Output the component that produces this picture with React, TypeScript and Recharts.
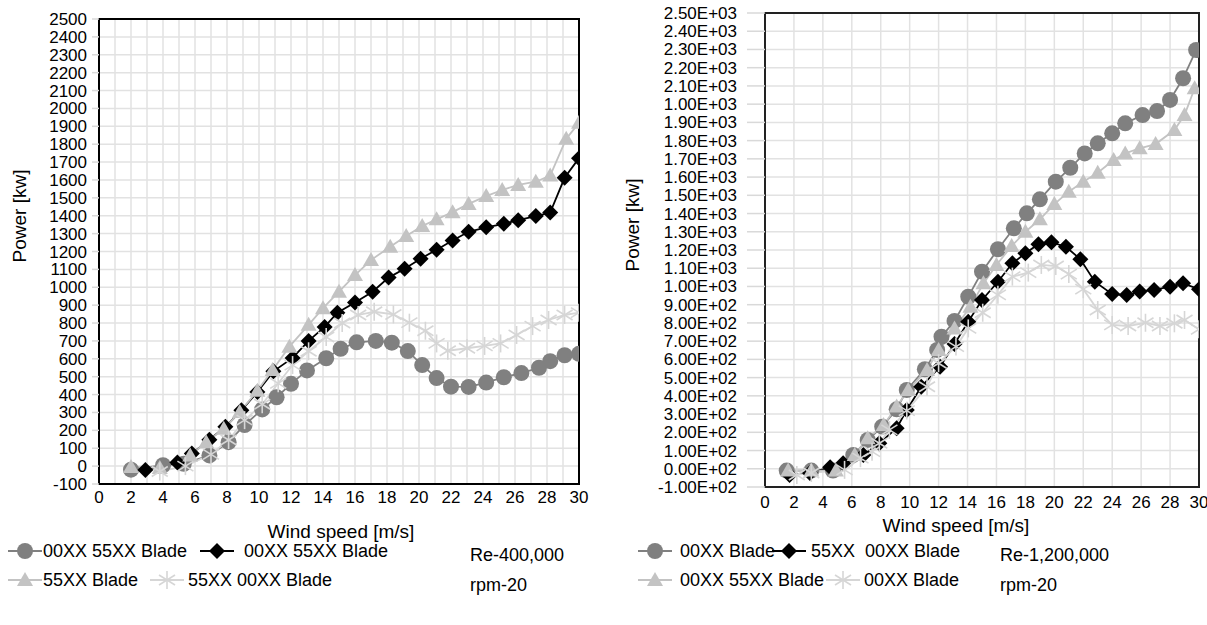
import React from 'react';
import { LineChart, Line, XAxis, YAxis, CartesianGrid, ReferenceArea } from 'recharts';

const FONT = '"Liberation Sans", Arial, Helvetica, sans-serif';

// ---------- Left chart (Re-400,000) ----------
const leftCircleX = [2.0, 4.0, 5.3, 6.9, 8.1, 9.1, 10.2, 11.1, 12.0, 13.0, 14.2, 15.1, 16.1, 17.3, 18.3, 19.3, 20.2, 21.1, 22.0, 23.1, 24.2, 25.3, 26.4, 27.5, 28.2, 29.1, 30.0];
const leftCircleY = [-20, 5, 13, 60, 134, 230, 317, 385, 460, 535, 603, 656, 692, 700, 690, 643, 565, 492, 444, 443, 467, 497, 520, 550, 587, 620, 628];

const leftDiamondX = [2.9, 4.9, 5.8, 6.9, 7.9, 8.9, 9.9, 10.9, 12.1, 13.1, 14.1, 14.9, 16.0, 17.1, 18.1, 19.1, 20.1, 21.1, 22.1, 23.1, 24.2, 25.3, 26.2, 27.3, 28.2, 29.1, 30.0];
const leftDiamondY = [-22, 20, 70, 148, 220, 312, 415, 530, 605, 700, 778, 858, 915, 975, 1054, 1104, 1160, 1210, 1262, 1310, 1335, 1355, 1375, 1398, 1418, 1612, 1722];

const leftTriangleX = [2.0, 3.8, 5.7, 6.7, 7.8, 8.8, 9.9, 10.85, 11.9, 13.1, 14.0, 15.0, 16.0, 17.0, 18.2, 19.2, 20.2, 21.1, 22.1, 23.1, 24.2, 25.2, 26.2, 27.3, 28.2, 29.2, 30.0];
const leftTriangleY = [-5, -10, 60, 134, 209, 302, 422, 537, 668, 790, 883, 975, 1068, 1152, 1227, 1287, 1343, 1380, 1420, 1466, 1510, 1544, 1572, 1590, 1625, 1830, 1920];

const leftStarX = [3.8, 5.4, 7.0, 8.1, 9.1, 10.2, 11.2, 12.1, 13.1, 14.2, 15.2, 16.2, 17.2, 18.4, 19.4, 20.4, 21.1, 21.8, 23.0, 24.1, 25.1, 26.1, 27.1, 28.1, 29.1, 30.0];
const leftStarY = [-30, 0, 66, 146, 257, 346, 463, 565, 642, 722, 800, 845, 863, 848, 802, 757, 686, 645, 659, 672, 686, 733, 783, 817, 845, 858];

const leftXTicks = [0, 1, 2, 3, 4, 5, 6, 7, 8, 9, 10, 11, 12, 13, 14, 15, 16, 17, 18, 19, 20, 21, 22, 23, 24, 25, 26, 27, 28, 29, 30];
const leftXLabelTicks = [0, 2, 4, 6, 8, 10, 12, 14, 16, 18, 20, 22, 24, 26, 28, 30];
const yTicks = [-100, 0, 100, 200, 300, 400, 500, 600, 700, 800, 900, 1000, 1100, 1200, 1300, 1400, 1500, 1600, 1700, 1800, 1900, 2000, 2100, 2200, 2300, 2400, 2500];

const leftLegend = ['00XX 55XX Blade', '00XX 55XX Blade', '55XX Blade', '55XX 00XX Blade'];
const leftNote = ['Re-400,000', 'rpm-20'];

// ---------- Right chart (Re-1,200,000) ----------
const rightCircleX = [1.5, 3.2, 4.7, 6.1, 7.1, 8.1, 9.1, 9.8, 11.05, 11.9, 12.2, 13.1, 14.05, 15.0, 16.1, 17.2, 18.1, 19.0, 20.1, 21.1, 22.1, 23.0, 24.0, 24.9, 26.1, 27.1, 28.0, 28.9, 29.8];
const rightCircleY = [-10, -10, -10, 76, 158, 231, 326, 432, 546, 652, 724, 811, 944, 1081, 1204, 1319, 1401, 1478, 1575, 1651, 1730, 1785, 1840, 1895, 1940, 1962, 2023, 2142, 2297];

const rightDiamondX = [1.7, 3.1, 4.5, 5.4, 6.8, 7.9, 9.1, 9.8, 10.8, 12.1, 13.1, 14.05, 15.0, 16.1, 17.1, 18.0, 18.9, 19.8, 20.8, 21.8, 22.8, 24.0, 25.0, 25.9, 26.9, 28.0, 28.9, 30.0];
const rightDiamondY = [-34, -23, 8, 30, 76, 140, 222, 322, 450, 560, 684, 807, 926, 1026, 1127, 1182, 1232, 1242, 1218, 1149, 1026, 958, 953, 972, 981, 999, 1017, 985];

const rightTriangleX = [1.6, 3.2, 4.9, 6.2, 7.1, 8.2, 9.1, 9.9, 11.2, 12.0, 13.1, 14.2, 15.1, 16.0, 17.05, 18.0, 19.0, 20.0, 21.0, 22.0, 23.0, 24.1, 24.9, 25.9, 27.0, 28.3, 29.0, 29.7];
const rightTriangleY = [-10, -10, -10, 76, 167, 240, 341, 432, 542, 652, 770, 889, 1017, 1118, 1222, 1300, 1368, 1452, 1520, 1575, 1624, 1694, 1730, 1758, 1781, 1858, 1940, 2087];

const rightStarX = [2.2, 3.2, 5.5, 6.6, 7.4, 7.9, 8.6, 9.8, 11.2, 12.0, 13.2, 14.05, 15.05, 16.1, 17.1, 18.2, 19.1, 20.1, 21.0, 22.0, 23.0, 24.0, 25.1, 26.3, 27.3, 28.3, 29.0, 30.0];
const rightStarY = [-34, -23, -6, 58, 94, 140, 213, 319, 450, 579, 670, 770, 856, 954, 1054, 1076, 1118, 1112, 1068, 985, 871, 789, 783, 801, 783, 798, 816, 765];

const rightXTicks = [0, 2, 4, 6, 8, 10, 12, 14, 16, 18, 20, 22, 24, 26, 28, 30];
const rightYLabels = ['-1.00E+02', '0.00E+02', '1.00E+02', '2.00E+02', '3.00E+02', '4.00E+02', '5.00E+02', '6.00E+02', '7.00E+02', '8.00E+02', '9.00E+02', '1.00E+03', '1.10E+03', '1.20E+03', '1.30E+03', '1.40E+03', '1.50E+03', '1.60E+03', '1.70E+03', '1.80E+03', '1.90E+03', '1.00E+03', '2.10E+03', '2.20E+03', '2.30E+03', '2.40E+03', '2.50E+03'];

const rightLegend = ['00XX Blade', '55XX  00XX Blade', '00XX 55XX Blade', '00XX Blade'];
const rightNote = ['Re-1,200,000', 'rpm-20'];

// ---------- styles ----------
const C_CIRCLE = '#808080';
const C_DIAMOND = '#000000';
const C_TRI = '#c3c3c3';
const C_STAR = '#d6d6d6';
const GRID = '#e2e2e2';

const zip = (xs: number[], ys: number[]) => xs.map((x, i) => ({ x, y: ys[i] }));

const shapeAt = (kind: string, cx: number, cy: number, key?: string | number) => {
  if (kind === 'circle') return <circle key={key} cx={cx} cy={cy} r={8} fill={C_CIRCLE} />;
  if (kind === 'diamond')
    return <polygon key={key} points={`${cx},${cy - 8} ${cx + 8},${cy} ${cx},${cy + 8} ${cx - 8},${cy}`} fill={C_DIAMOND} />;
  if (kind === 'triangle')
    return <polygon key={key} points={`${cx},${cy - 8} ${cx + 8},${cy + 6} ${cx - 8},${cy + 6}`} fill={C_TRI} />;
  return (
    <g key={key} stroke={C_STAR} strokeWidth={1.6}>
      <line x1={cx} y1={cy - 9} x2={cx} y2={cy + 9} />
      <line x1={cx - 8} y1={cy - 5} x2={cx + 8} y2={cy + 5} />
      <line x1={cx - 8} y1={cy + 5} x2={cx + 8} y2={cy - 5} />
    </g>
  );
};

const makeDot = (kind: string) => (props: any) => {
  const { cx, cy, index } = props;
  if (cx == null || cy == null) return <g key={`e${index}`} />;
  return shapeAt(kind, cx, cy, `${kind}${index}`);
};

const LegendMarker = ({ kind, color }: { kind: string; color: string }) => (
  <svg width={34} height={20} style={{ display: 'block' }}>
    <line x1={0} y1={10} x2={34} y2={10} stroke={color} strokeWidth={2} />
    {shapeAt(kind, 17, 10)}
  </svg>
);

const abs = (left: number, top: number): React.CSSProperties => ({ position: 'absolute', left, top });
const textStyle: React.CSSProperties = { fontFamily: FONT, fontSize: 18, color: '#000', lineHeight: '20px', whiteSpace: 'pre' };
const titleStyle: React.CSSProperties = { ...textStyle, fontSize: 19 };

const tickStyle = { fontFamily: FONT, fontSize: 17, fill: '#000' };

const seriesLines = (c: any[], d: any[], t: any[], s: any[]) => [
  <Line key="c" data={c} dataKey="y" type="linear" stroke={C_CIRCLE} strokeWidth={1.8} dot={makeDot('circle')} activeDot={false} isAnimationActive={false} />,
  <Line key="d" data={d} dataKey="y" type="linear" stroke={C_DIAMOND} strokeWidth={1.8} dot={makeDot('diamond')} activeDot={false} isAnimationActive={false} />,
  <Line key="t" data={t} dataKey="y" type="linear" stroke={C_TRI} strokeWidth={1.8} dot={makeDot('triangle')} activeDot={false} isAnimationActive={false} />,
  <Line key="s" data={s} dataKey="y" type="linear" stroke={C_STAR} strokeWidth={1.8} dot={makeDot('star')} activeDot={false} isAnimationActive={false} />,
];

export default function App() {
  const lc = zip(leftCircleX, leftCircleY);
  const ld = zip(leftDiamondX, leftDiamondY);
  const lt = zip(leftTriangleX, leftTriangleY);
  const ls = zip(leftStarX, leftStarY);
  const rc = zip(rightCircleX, rightCircleY);
  const rd = zip(rightDiamondX, rightDiamondY);
  const rt = zip(rightTriangleX, rightTriangleY);
  const rs = zip(rightStarX, rightStarY);

  return (
    <div style={{ position: 'absolute', left: 0, top: 0, width: 1207, height: 625, background: '#fff', fontFamily: FONT }}>
      {/* Left chart */}
      <div style={abs(0, 0)}>
        <LineChart width={600} height={520} margin={{ top: 19, right: 21, left: 30, bottom: 6 }}>
          <CartesianGrid stroke={GRID} strokeWidth={1.5} />
          <XAxis
            type="number"
            dataKey="x"
            domain={[0, 30]}
            ticks={leftXTicks}
            interval={0}
            allowDataOverflow
            axisLine={false}
            tickLine={false}
            tickSize={0}
            tickMargin={7}
            height={30}
            tick={tickStyle}
            tickFormatter={(v: number) => (leftXLabelTicks.includes(v) ? String(v) : '')}
          />
          <YAxis
            type="number"
            domain={[-100, 2500]}
            ticks={yTicks}
            interval={0}
            allowDataOverflow
            width={69}
            axisLine={false}
            tickLine={{ stroke: '#d9d9d9', strokeWidth: 1.5 }}
            tickSize={7}
            tickMargin={5}
            tick={tickStyle}
          />
          <ReferenceArea x1={0} x2={30} y1={-100} y2={2500} fill="none" stroke="#000" strokeWidth={2} ifOverflow="visible" />
          {seriesLines(lc, ld, lt, ls)}
        </LineChart>
      </div>

      {/* Right chart */}
      <div style={abs(600, 0)}>
        <LineChart width={607} height={520} margin={{ top: 13, right: 8, left: 45, bottom: 3 }}>
          <CartesianGrid stroke={GRID} strokeWidth={1.5} />
          <XAxis
            type="number"
            dataKey="x"
            domain={[0, 30]}
            ticks={rightXTicks}
            interval={0}
            allowDataOverflow
            axisLine={false}
            tickLine={false}
            tickSize={0}
            tickMargin={9}
            height={30}
            tick={tickStyle}
          />
          <YAxis
            type="number"
            domain={[-100, 2500]}
            ticks={yTicks}
            interval={0}
            allowDataOverflow
            width={120}
            axisLine={false}
            tickLine={{ stroke: '#d9d9d9', strokeWidth: 1.5 }}
            tickSize={18}
            tickMargin={10}
            tick={tickStyle}
            tickFormatter={(v: number) => rightYLabels[yTicks.indexOf(v)]}
          />
          <ReferenceArea x1={0} x2={30} y1={-100} y2={2500} fill="none" stroke="#222" strokeWidth={2} ifOverflow="visible" />
          {seriesLines(rc, rd, rt, rs)}
        </LineChart>
      </div>

      {/* Axis titles */}
      <div style={{ ...abs(20, 216), ...titleStyle, transform: 'translate(-50%, -50%) rotate(-90deg)' }}>Power [kw]</div>
      <div style={{ ...abs(341, 532), ...titleStyle, transform: 'translate(-50%, -50%)' }}>Wind speed [m/s]</div>
      <div style={{ ...abs(633, 225), ...titleStyle, transform: 'translate(-50%, -50%) rotate(-90deg)' }}>Power [kw]</div>
      <div style={{ ...abs(956, 526), ...titleStyle, transform: 'translate(-50%, -50%)' }}>Wind speed [m/s]</div>

      {/* Left legend */}
      <div style={abs(8, 541)}><LegendMarker kind="circle" color={C_CIRCLE} /></div>
      <div style={{ ...abs(43, 541), ...textStyle }}>{leftLegend[0]}</div>
      <div style={abs(200, 541)}><LegendMarker kind="diamond" color={C_DIAMOND} /></div>
      <div style={{ ...abs(244, 541), ...textStyle }}>{leftLegend[1]}</div>
      <div style={abs(8, 570)}><LegendMarker kind="triangle" color={C_TRI} /></div>
      <div style={{ ...abs(43, 570), ...textStyle }}>{leftLegend[2]}</div>
      <div style={abs(150, 570)}><LegendMarker kind="star" color={C_STAR} /></div>
      <div style={{ ...abs(188, 570), ...textStyle }}>{leftLegend[3]}</div>
      <div style={{ ...abs(470, 545), ...textStyle }}>{leftNote[0]}</div>
      <div style={{ ...abs(470, 575), ...textStyle }}>{leftNote[1]}</div>

      {/* Right legend */}
      <div style={abs(638, 541)}><LegendMarker kind="circle" color={C_CIRCLE} /></div>
      <div style={{ ...abs(680, 541), ...textStyle }}>{rightLegend[0]}</div>
      <div style={abs(772, 541)}><LegendMarker kind="diamond" color={C_DIAMOND} /></div>
      <div style={{ ...abs(811, 541), ...textStyle }}>{rightLegend[1]}</div>
      <div style={abs(638, 570)}><LegendMarker kind="triangle" color={C_TRI} /></div>
      <div style={{ ...abs(680, 570), ...textStyle }}>{rightLegend[2]}</div>
      <div style={abs(826, 570)}><LegendMarker kind="star" color={C_STAR} /></div>
      <div style={{ ...abs(864, 570), ...textStyle }}>{rightLegend[3]}</div>
      <div style={{ ...abs(1000, 545), ...textStyle }}>{rightNote[0]}</div>
      <div style={{ ...abs(1000, 575), ...textStyle }}>{rightNote[1]}</div>
    </div>
  );
}
